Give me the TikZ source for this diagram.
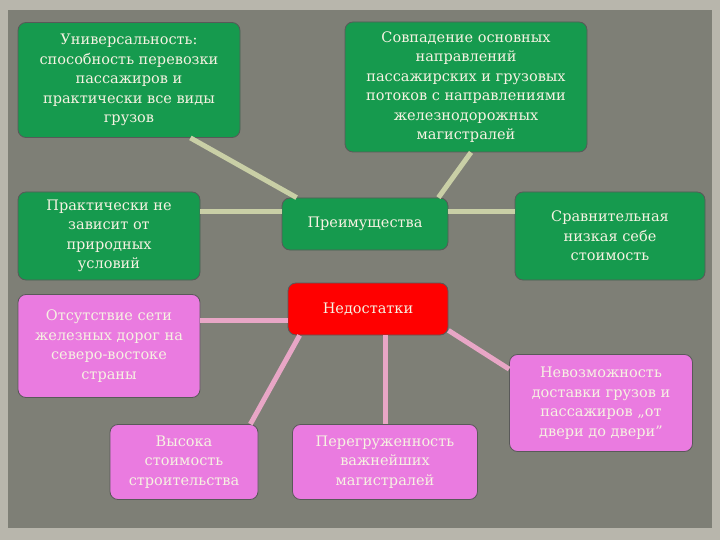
\documentclass[tikz,border=0pt]{standalone}
\usepackage{fontspec}
\setmainfont{DejaVu Serif}
\definecolor{gfill}{HTML}{169A4E}
\definecolor{pfill}{HTML}{EA7BE0}
\definecolor{txt}{HTML}{F6F2E2}
\definecolor{gl}{HTML}{C9CFA6}
\definecolor{pl}{HTML}{E8A6C6}
\definecolor{bg}{HTML}{7E7F76}
\definecolor{edge}{HTML}{B8B6AC}
\begin{document}
\begin{tikzpicture}[x=1pt,y=-1pt,
  box/.style={rounded corners=8pt,align=center,text=txt,font=\fontsize{14.5}{19.5}\selectfont,inner sep=2pt,draw=gray!70!black,line width=0.8pt},
  gbox/.style={box,fill=gfill},
  pbox/.style={box,fill=pfill},
  rbox/.style={box,fill=red},
  gline/.style={line width=5pt,color=gl},
  pline/.style={line width=5pt,color=pl}]
\fill[edge] (0,0) rectangle (720,540);
\fill[bg] (8,10) rectangle (712,528);
\useasboundingbox (0,0) rectangle (720,540);
\node[gbox,minimum width=222pt,minimum height=115pt] (u) at (129,80) {Универсальность:\\способность перевозки\\пассажиров и\\практически все виды\\грузов};
\node[gbox,minimum width=242pt,minimum height=130pt] (s) at (466,87) {Совпадение основных\\направлений\\пассажирских и грузовых\\потоков с направлениями\\железнодорожных\\магистралей};
\node[gbox,minimum width=182pt,minimum height=88pt] (p) at (109,236) {Практически не\\зависит от\\природных\\условий};
\node[gbox,minimum width=166pt,minimum height=52pt] (a) at (365,224) {Преимущества};
\node[gbox,minimum width=190pt,minimum height=88pt] (c) at (610,236) {Сравнительная\\низкая себе\\стоимость};
\node[rbox,minimum width=160pt,minimum height=52pt] (d) at (368,309) {Недостатки};
\node[pbox,minimum width=182pt,minimum height=103pt] (o) at (109,346) {Отсутствие сети\\железных дорог на\\северо-востоке\\страны};
\node[pbox,minimum width=183pt,minimum height=97pt] (n) at (601,403) {Невозможность\\доставки грузов и\\пассажиров „от\\двери до двери”};
\node[pbox,minimum width=148pt,minimum height=75pt] (v) at (184,462) {Высока\\стоимость\\строительства};
\node[pbox,minimum width=185pt,minimum height=75pt] (g) at (385,462) {Перегруженность\\важнейших\\магистралей};
\draw[gline] ([xshift=15]a.north west) -- ([xshift=-50]u.south east);
\draw[gline] ([xshift=-10]a.north east) -- ([xshift=5]s.south);
\draw[gline] (p.east|-0,212) -- (a.west|-0,212);
\draw[gline] (a.east|-0,212) -- (c.west|-0,212);
\draw[pline] (d.west|-0,320) -- (o.east|-0,320);
\draw[pline] ([xshift=12]d.south west) -- ([xshift=-8]v.north east);
\draw[pline] (d.south-|g.north) -- (g.north);
\draw[pline] ([yshift=5]d.south east) -- ([yshift=-15]n.north west);
\end{tikzpicture}
\end{document}
